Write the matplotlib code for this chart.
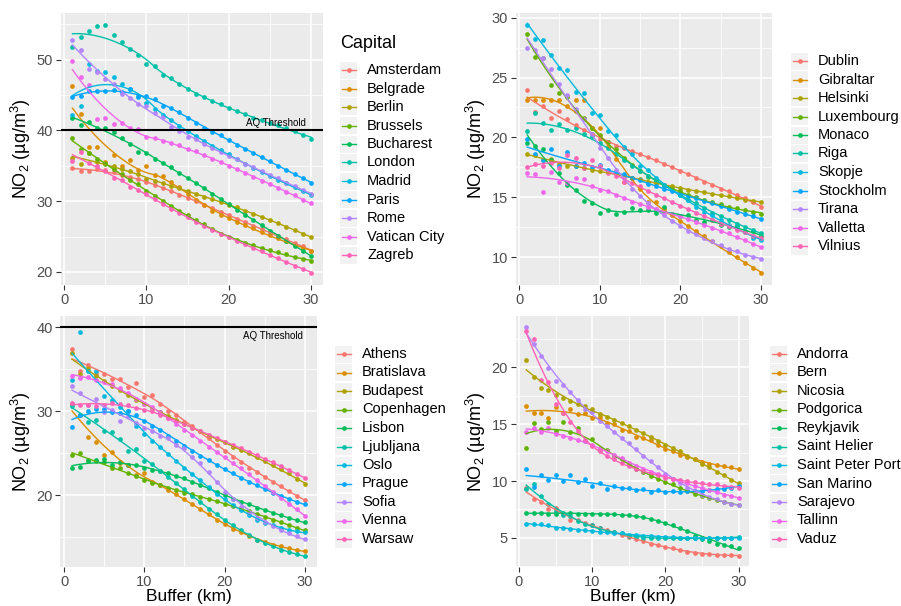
import numpy as np
import matplotlib
matplotlib.use("Agg")
import matplotlib.pyplot as plt
from matplotlib.patches import Rectangle
from matplotlib.lines import Line2D

plt.rcParams['font.family'] = ['Liberation Sans', 'DejaVu Sans']
plt.rcParams['mathtext.fontset'] = 'custom'
plt.rcParams['mathtext.rm'] = 'Liberation Sans'
plt.rcParams['mathtext.it'] = 'Liberation Sans:italic'
plt.rcParams['mathtext.default'] = 'regular'

# ---------------- data ----------------
buffer_km = list(range(1, 31))
palette = ["#F8766D", "#DB8E00", "#AEA200", "#64B200", "#00BD5C", "#00C1A7",
           "#00BADE", "#00A6FF", "#B385FF", "#EF67EB", "#FF63B6"]
aq_threshold = 40

# Panel A (top-left)
names_a = ["Amsterdam", "Belgrade", "Berlin", "Brussels", "Bucharest", "London",
           "Madrid", "Paris", "Rome", "Vatican City", "Zagreb"]
amsterdam = [34.7, 34.2, 34.2, 34.6, 34.4, 34.1, 33.7, 33.4, 33.1, 32.7, 32.3, 31.9, 31.4, 30.9, 30.5,
             30.0, 29.5, 29.0, 28.5, 28.0, 27.5, 27.0, 26.5, 26.0, 25.5, 25.1, 24.6, 24.1, 23.6, 23.0]
belgrade = [46.3, 42.3, 37.6, 37.7, 35.5, 36.5, 34.9, 35.8, 34.4, 34.9, 33.7, 33.6, 32.7, 32.0, 31.0,
            30.1, 29.5, 28.6, 28.1, 27.6, 27.1, 26.6, 26.2, 25.7, 25.2, 24.8, 24.3, 23.8, 23.4, 22.9]
berlin = [36.1, 35.3, 36.8, 35.5, 35.4, 34.9, 34.5, 34.2, 33.8, 33.1, 32.9, 32.5, 32.2, 31.8, 31.4,
          31.0, 30.6, 30.3, 29.9, 29.5, 29.1, 28.6, 28.2, 27.8, 27.3, 26.9, 26.4, 25.9, 25.4, 24.9]
brussels = [38.9, 37.3, 36.8, 36.0, 35.2, 34.6, 33.9, 33.0, 32.4, 31.5, 30.7, 30.0, 29.3, 28.6, 28.0,
            27.3, 26.7, 26.0, 25.4, 24.9, 24.5, 24.1, 23.8, 23.4, 23.1, 22.8, 22.5, 22.1, 21.8, 21.5]
bucharest = [41.8, 40.8, 41.2, 40.4, 40.4, 39.7, 38.9, 38.1, 37.0, 36.8, 36.0, 35.4, 34.8, 34.0, 33.3,
             32.5, 31.8, 31.0, 30.3, 29.6, 28.8, 28.1, 27.3, 26.6, 25.8, 25.1, 24.4, 23.7, 23.0, 22.3]
london = [51.8, 53.2, 54.1, 54.7, 54.9, 53.5, 52.5, 51.5, 50.6, 49.4, 49.1, 47.8, 47.4, 46.5, 45.8,
          45.2, 44.7, 44.2, 43.7, 43.1, 42.7, 42.3, 41.8, 41.5, 41.0, 40.7, 40.3, 39.9, 39.4, 38.8]
madrid = [42.1, 43.5, 49.4, 48.4, 48.3, 47.6, 46.6, 45.9, 44.8, 43.8, 43.0, 42.2, 41.4, 40.6, 39.9,
          39.2, 38.5, 37.8, 37.2, 36.6, 35.9, 35.3, 34.7, 34.1, 33.6, 33.0, 32.5, 32.0, 31.4, 30.8]
paris = [44.7, 44.9, 45.5, 45.6, 45.6, 45.7, 45.4, 45.9, 44.7, 44.9, 44.4, 43.5, 43.1, 42.6, 41.7,
         41.1, 40.4, 39.8, 39.3, 38.6, 38.0, 37.4, 36.8, 36.2, 35.6, 35.0, 34.4, 33.9, 33.2, 32.6]
rome = [52.7, 51.4, 48.6, 48.2, 47.2, 46.5, 45.1, 44.6, 43.7, 43.4, 42.5, 41.9, 40.5, 39.9, 39.1,
        38.8, 38.1, 37.5, 37.0, 36.4, 35.9, 35.3, 34.8, 34.3, 33.7, 33.2, 32.6, 32.1, 31.6, 31.0]
vatican_city = [49.8, 47.6, 46.4, 41.6, 41.7, 40.9, 41.0, 40.4, 40.2, 39.1, 38.9, 38.5, 38.2, 37.9, 37.3,
                37.1, 36.5, 36.0, 35.5, 35.0, 34.5, 34.0, 33.4, 32.9, 32.4, 31.8, 31.3, 30.8, 30.2, 29.7]
zagreb = [35.6, 36.9, 35.4, 35.0, 34.3, 33.3, 33.0, 32.0, 31.6, 31.0, 30.3, 29.6, 28.9, 28.3, 27.7,
          27.1, 26.5, 25.9, 25.4, 24.9, 24.4, 23.9, 23.4, 22.9, 22.4, 21.9, 21.4, 20.9, 20.4, 19.9]

# Panel B (top-right)
names_b = ["Dublin", "Gibraltar", "Helsinki", "Luxembourg", "Monaco", "Riga",
           "Skopje", "Stockholm", "Tirana", "Valletta", "Vilnius"]
dublin = [24.0, 22.1, 22.6, 21.6, 22.2, 21.5, 21.0, 20.6, 20.3, 19.9, 19.6, 19.3, 19.1, 18.9, 18.6,
          18.4, 18.1, 17.8, 17.5, 17.2, 16.9, 16.6, 16.3, 16.0, 15.7, 15.5, 15.2, 14.9, 14.6, 14.2]
gibraltar = [23.1, 23.1, 23.1, 23.1, 23.1, 22.6, 23.1, 23.1, 20.8, 20.8, 19.2, 18.2, 16.3, 16.6, 15.7,
             14.6, 14.6, 14.0, 13.5, 13.0, 12.6, 12.2, 11.8, 11.3, 10.9, 10.4, 10.0, 9.5, 9.1, 8.7]
helsinki = [18.6, 18.5, 18.1, 18.2, 17.8, 17.6, 17.6, 17.4, 17.3, 17.2, 17.1, 16.9, 16.8, 16.6, 16.5,
            16.3, 16.2, 16.0, 15.9, 15.8, 15.6, 15.5, 15.4, 15.3, 15.2, 15.1, 14.9, 14.8, 14.7, 14.6]
luxembourg = [28.6, 26.7, 26.6, 24.4, 23.7, 23.4, 22.2, 21.6, 20.8, 20.2, 19.6, 19.0, 18.3, 17.7, 17.2,
              16.7, 16.4, 16.0, 15.7, 15.5, 15.2, 15.0, 14.8, 14.6, 14.4, 14.2, 14.1, 13.9, 13.8, 13.6]
monaco = [19.5, 19.3, 19.0, 18.1, 17.0, 16.0, 15.6, 14.7, 14.5, 13.7, 13.9, 13.6, 13.8, 14.1, 13.9,
          13.9, 13.7, 14.2, 13.6, 13.4, 13.5, 13.1, 12.9, 13.1, 12.7, 12.5, 12.6, 12.1, 12.2, 11.8]
riga = [20.5, 22.0, 21.2, 20.6, 21.1, 20.6, 20.8, 20.3, 20.1, 19.5, 19.1, 18.6, 18.1, 17.6, 17.2,
        16.8, 16.4, 16.0, 15.6, 15.2, 14.8, 14.5, 14.1, 13.7, 13.4, 13.1, 12.8, 12.5, 12.3, 12.0]
skopje = [29.4, 28.2, 28.1, 26.9, 25.8, 25.6, 23.8, 23.7, 22.0, 21.9, 20.5, 20.2, 19.2, 18.6, 17.6,
          17.3, 16.6, 16.0, 15.6, 15.2, 14.8, 14.2, 13.8, 13.5, 13.1, 12.7, 12.4, 12.2, 11.6, 11.4]
stockholm = [19.9, 18.6, 18.1, 19.0, 17.6, 18.8, 17.6, 17.9, 17.5, 17.7, 17.3, 17.0, 16.9, 16.6, 16.4,
             16.1, 15.9, 15.7, 15.5, 15.3, 15.1, 14.9, 14.7, 14.5, 14.3, 14.0, 13.8, 13.6, 13.4, 13.2]
tirana = [27.5, 27.3, 26.6, 25.7, 24.5, 23.5, 22.4, 21.5, 20.3, 19.1, 18.3, 17.3, 16.6, 15.7, 15.1,
          14.5, 14.0, 13.5, 13.0, 12.6, 12.2, 11.9, 11.6, 11.3, 11.0, 10.7, 10.5, 10.2, 10.0, 9.8]
valletta = [17.0, 16.9, 15.4, 17.1, 16.3, 16.2, 16.6, 16.5, 15.9, 15.6, 15.5, 15.2, 14.9, 14.6, 14.4,
            14.2, 14.0, 13.8, 13.6, 13.4, 13.2, 12.9, 12.7, 12.4, 12.2, 12.0, 11.7, 11.4, 11.1, 10.8]
vilnius = [17.5, 17.8, 17.6, 17.9, 17.4, 18.5, 18.3, 17.4, 18.1, 17.6, 17.0, 16.8, 16.3, 16.2, 15.9,
           15.5, 15.2, 14.9, 14.6, 14.3, 14.0, 13.7, 13.4, 13.1, 12.8, 12.6, 12.3, 12.1, 11.8, 11.6]

# Panel C (bottom-left)
names_c = ["Athens", "Bratislava", "Budapest", "Copenhagen", "Lisbon", "Ljubljana",
           "Oslo", "Prague", "Sofia", "Vienna", "Warsaw"]
athens = [37.4, 34.8, 35.5, 34.5, 34.4, 33.9, 33.9, 32.9, 33.4, 31.7, 32.0, 30.9, 30.0, 29.6, 28.7,
          28.3, 27.6, 26.8, 26.0, 25.3, 24.6, 24.0, 23.3, 22.8, 22.2, 21.6, 21.1, 20.5, 19.9, 19.4]
bratislava = [30.9, 29.5, 26.9, 26.3, 24.8, 25.2, 23.8, 23.6, 22.4, 22.6, 21.6, 21.2, 20.6, 20.2, 19.6,
              18.9, 18.3, 17.7, 17.1, 16.6, 16.0, 15.6, 15.1, 14.7, 14.4, 14.1, 13.9, 13.7, 13.5, 13.3]
budapest = [37.0, 34.4, 35.2, 34.2, 33.6, 33.0, 32.5, 31.9, 31.4, 30.9, 30.4, 29.9, 29.4, 29.0, 28.5,
            28.0, 27.6, 27.1, 26.7, 26.3, 25.8, 25.4, 25.0, 24.5, 24.1, 23.6, 23.1, 22.6, 21.9, 21.3]
copenhagen = [24.8, 25.0, 24.1, 24.1, 23.9, 23.3, 23.2, 22.6, 22.3, 21.8, 21.5, 21.2, 20.9, 20.6, 20.3,
              20.1, 19.8, 19.6, 19.3, 19.0, 18.7, 18.4, 18.1, 17.7, 17.4, 17.1, 16.8, 16.4, 16.1, 15.8]
lisbon = [23.2, 23.4, 24.2, 24.2, 24.3, 23.6, 24.0, 23.6, 23.6, 23.3, 23.0, 22.9, 22.6, 22.3, 22.0,
          21.6, 21.2, 20.8, 20.4, 20.0, 19.6, 19.2, 18.9, 18.5, 18.2, 17.9, 17.6, 17.3, 17.0, 16.75]
ljubljana = [30.6, 29.6, 28.7, 29.0, 27.6, 27.5, 26.7, 25.3, 25.5, 24.1, 23.7, 22.9, 22.2, 21.4, 20.7,
             19.9, 19.2, 18.4, 17.7, 17.0, 16.4, 15.8, 15.2, 14.7, 14.3, 13.9, 13.5, 13.2, 13.0, 12.8]
oslo = [33.7, 39.5, 34.8, 34.8, 31.8, 31.3, 30.5, 30.0, 28.2, 27.3, 26.5, 25.8, 24.9, 24.1, 23.3,
        22.5, 21.8, 21.0, 20.2, 19.5, 18.8, 18.2, 17.6, 17.1, 16.7, 16.4, 16.1, 15.9, 15.7, 15.6]
prague = [28.1, 29.6, 30.0, 30.3, 30.3, 29.9, 29.8, 30.0, 29.5, 28.9, 28.2, 27.8, 27.1, 26.5, 25.9,
          25.3, 24.7, 24.2, 23.6, 23.1, 22.6, 22.1, 21.6, 21.2, 20.7, 20.3, 19.9, 19.6, 19.2, 18.9]
sofia = [33.0, 32.2, 30.8, 31.5, 29.9, 30.2, 28.8, 29.4, 28.6, 28.0, 27.6, 27.0, 26.8, 26.0, 25.6,
         24.6, 23.8, 22.8, 21.6, 20.4, 19.5, 18.6, 17.9, 17.3, 16.8, 16.3, 15.9, 15.5, 15.1, 14.8]
vienna = [34.2, 34.0, 34.1, 33.7, 33.5, 33.3, 32.8, 32.2, 31.5, 30.9, 30.5, 29.9, 29.2, 28.5, 27.8,
          27.2, 26.5, 25.8, 25.1, 24.5, 23.8, 23.2, 22.5, 21.8, 21.1, 20.4, 19.7, 19.0, 18.3, 17.5]
warsaw = [31.0, 30.8, 30.8, 30.6, 30.7, 31.0, 30.9, 30.7, 30.4, 30.2, 30.0, 29.6, 29.2, 28.8, 28.5,
          28.0, 27.6, 27.2, 26.8, 26.4, 26.0, 25.6, 25.2, 24.8, 24.3, 23.9, 23.5, 23.0, 22.5, 22.0]

# Panel D (bottom-right)
names_d = ["Andorra", "Bern", "Nicosia", "Podgorica", "Reykjavik", "Saint Helier",
           "Saint Peter Port", "San Marino", "Sarajevo", "Tallinn", "Vaduz"]
andorra = [9.4, 8.4, 8.2, 7.5, 7.6, 7.1, 6.6, 6.6, 6.3, 6.1, 5.9, 5.7, 5.5, 5.3, 5.1,
           4.9, 4.7, 4.5, 4.4, 4.2, 4.1, 3.9, 3.8, 3.7, 3.6, 3.6, 3.5, 3.5, 3.5, 3.45]
bern = [16.6, 16.0, 16.0, 15.5, 16.5, 16.0, 16.3, 15.9, 16.0, 15.5, 15.6, 15.1, 15.0, 14.5, 14.4,
        13.9, 13.8, 13.6, 13.2, 12.8, 12.6, 12.3, 12.1, 11.9, 11.7, 11.5, 11.4, 11.3, 11.2, 11.05]
nicosia = [20.6, 19.1, 18.2, 18.0, 17.6, 17.3, 17.0, 16.8, 16.6, 16.3, 15.9, 15.6, 15.4, 15.1, 14.8,
           14.5, 14.2, 13.9, 13.5, 13.2, 12.9, 12.6, 12.2, 11.9, 11.5, 11.2, 10.8, 10.5, 10.1, 9.8]
podgorica = [12.9, 15.1, 14.6, 15.2, 14.4, 15.2, 14.3, 14.7, 13.5, 13.7, 12.8, 12.7, 12.2, 11.9, 11.5,
             11.1, 10.8, 10.4, 10.2, 9.9, 9.7, 9.4, 9.1, 8.9, 8.7, 8.5, 8.3, 8.2, 8.0, 7.9]
reykjavik = [7.2, 7.2, 7.2, 7.1, 7.1, 7.2, 7.2, 7.1, 7.1, 7.1, 7.1, 7.1, 7.1, 7.0, 7.0,
             6.9, 6.8, 6.7, 6.5, 6.3, 6.1, 5.9, 5.6, 5.2, 4.9, 4.7, 4.5, 4.4, 4.3, 4.1]
saint_helier = [9.3, 9.7, 8.7, 8.0, 7.4, 7.0, 6.9, 6.5, 6.2, 6.1, 5.9, 5.6, 5.5, 5.4, 5.2,
                5.1, 5.0, 5.0, 5.0, 5.0, 5.0, 5.0, 5.0, 5.0, 5.0, 5.0, 5.0, 5.0, 5.0, 5.05]
saint_peter_port = [6.2, 6.2, 6.2, 6.1, 5.9, 5.9, 5.8, 5.7, 5.7, 5.6, 5.5, 5.5, 5.4, 5.4, 5.3,
                    5.3, 5.2, 5.2, 5.1, 5.1, 5.1, 5.0, 5.0, 5.0, 5.0, 5.0, 5.0, 5.0, 5.0, 5.0]
san_marino = [11.1, 9.5, 10.5, 10.1, 10.5, 10.0, 10.5, 9.9, 10.2, 9.6, 9.8, 9.3, 9.6, 9.4, 9.4,
              9.2, 9.3, 9.0, 9.2, 9.0, 9.1, 9.0, 9.1, 9.1, 9.1, 9.2, 9.3, 9.3, 9.4, 9.6]
sarajevo = [23.5, 22.0, 21.0, 19.9, 18.8, 18.4, 17.8, 17.1, 16.3, 16.1, 15.3, 14.8, 14.3, 13.8, 13.3,
            12.8, 12.2, 11.8, 11.2, 10.6, 10.2, 9.8, 9.4, 9.1, 8.8, 8.6, 8.4, 8.2, 8.0, 7.9]
tallinn = [14.3, 14.7, 14.3, 14.7, 14.1, 14.0, 13.8, 13.6, 13.5, 13.2, 12.9, 12.6, 12.3, 12.0, 11.6,
           11.3, 11.1, 10.8, 10.6, 10.4, 10.2, 10.0, 9.8, 9.6, 9.4, 9.2, 9.0, 8.8, 8.7, 8.5]
vaduz = [23.2, 22.5, 18.9, 18.7, 16.8, 16.0, 15.2, 14.4, 13.6, 13.1, 12.6, 12.2, 11.9, 11.6, 11.3,
         11.1, 10.9, 10.7, 10.5, 10.3, 10.2, 10.1, 10.0, 9.9, 9.8, 9.7, 9.7, 9.6, 9.5, 9.4]

series_a = [amsterdam, belgrade, berlin, brussels, bucharest, london, madrid, paris, rome, vatican_city, zagreb]
series_b = [dublin, gibraltar, helsinki, luxembourg, monaco, riga, skopje, stockholm, tirana, valletta, vilnius]
series_c = [athens, bratislava, budapest, copenhagen, lisbon, ljubljana, oslo, prague, sofia, vienna, warsaw]
series_d = [andorra, bern, nicosia, podgorica, reykjavik, saint_helier, saint_peter_port, san_marino,
            sarajevo, tallinn, vaduz]

# ---------------- helpers ----------------
W, H = 901, 606


def loess(x, y, xs, span=0.75):
    x = np.asarray(x, float)
    y = np.asarray(y, float)
    n = len(x)
    q = int(np.floor(n * span))
    out = []
    for x0 in xs:
        d = np.abs(x - x0)
        h = np.sort(d)[q - 1]
        w = np.clip(1 - (d / h) ** 3, 0, None) ** 3
        X = np.vstack([np.ones(n), x - x0, (x - x0) ** 2]).T
        sw = np.sqrt(w)
        beta = np.linalg.lstsq(X * sw[:, None], y * sw, rcond=None)[0]
        out.append(beta[0])
    return np.array(out)


def px_axes(fig, l, t, r, b):
    return fig.add_axes([l / W, 1 - b / H, (r - l) / W, (b - t) / H])


def panel(fig, box, series, yticks, xlabel=False, threshold=None, thr_text=None):
    ax = px_axes(fig, *box)
    ax.set_facecolor('#EBEBEB')
    for s in ax.spines.values():
        s.set_visible(False)
    x = np.array(buffer_km, float)
    xs = np.linspace(x.min(), x.max(), 120)
    for vals, c in zip(series, palette):
        ax.plot(x, vals, 'o', color=c, ms=3.4, mew=0, zorder=3)
    for vals, c in zip(series, palette):
        ax.plot(xs, loess(x, vals, xs), '-', color=c, lw=1.0, zorder=4)
    allv = np.concatenate([np.asarray(v, float) for v in series])
    lo, hi = allv.min(), allv.max()
    if threshold is not None:
        lo, hi = min(lo, threshold), max(hi, threshold)
        ax.axhline(threshold, color='black', lw=1.5, zorder=5)
        tx, ty = thr_text
        ax.text(tx, ty, 'AQ Threshold', fontsize=7, ha='center', va='center', zorder=6)
    rng = hi - lo
    xr = x.max() - x.min()
    ax.set_xlim(x.min() - 0.05 * xr, x.max() + 0.05 * xr)
    ax.set_xticks([0, 10, 20, 30])
    ax.set_xticks([5, 15, 25], minor=True)
    ax.set_yticks(yticks)
    step = yticks[1] - yticks[0]
    ax.set_yticks([t + step / 2 for t in [yticks[0] - step] + list(yticks)], minor=True)
    ax.set_ylim(lo - 0.05 * rng, hi + 0.05 * rng)
    ax.grid(which='major', color='white', lw=1.1)
    ax.grid(which='minor', color='white', lw=0.55)
    ax.set_axisbelow(True)
    ax.tick_params(which='major', length=3.5, width=0.8, color='#333333',
                   labelcolor='#4D4D4D', labelsize=10.5, pad=2)
    ax.tick_params(which='minor', length=0)
    ax.set_ylabel('NO$_2$ (µg/m$^3$)', fontsize=13, labelpad=2.5)
    if xlabel:
        ax.set_xlabel('Buffer (km)', fontsize=12.5, labelpad=0.5)
    return ax


def legend(fig, names, key_x, first_y, text_x, title=None, title_y=None):
    step = 18.5
    for i, (n, c) in enumerate(zip(names, palette)):
        cy = first_y + step * i
        fig.add_artist(Rectangle((key_x / W, 1 - (cy + 8.5) / H), 17 / W, 17 / H,
                                 transform=fig.transFigure, facecolor='#F2F2F2',
                                 edgecolor='none'))
        fig.add_artist(Line2D([(key_x + 1.5) / W, (key_x + 15.5) / W], [1 - cy / H] * 2,
                              transform=fig.transFigure, color=c, lw=1.0))
        fig.add_artist(Line2D([(key_x + 8.5) / W], [1 - cy / H], transform=fig.transFigure,
                              color=c, marker='o', ms=3.4, mew=0, ls='none'))
        fig.text(text_x / W, 1 - cy / H, n, fontsize=10.5, va='center', ha='left')
    if title:
        fig.text(key_x / W, 1 - title_y / H, title, fontsize=13, va='center', ha='left')


# ---------------- figure ----------------
fig = plt.figure(figsize=(W / 100, H / 100), dpi=100)
fig.patch.set_facecolor('white')

panel(fig, (60.5, 12.5, 323, 285), series_a, [20, 30, 40, 50],
      threshold=aq_threshold, thr_text=(25.7, 41.0))
panel(fig, (515.5, 12.5, 772.5, 285), series_b, [10, 15, 20, 25, 30])
panel(fig, (60.4, 316, 316.5, 567), series_c, [20, 30, 40], xlabel=True,
      threshold=aq_threshold, thr_text=(26.0, 39.0))
panel(fig, (515.7, 316, 749.3, 567), series_d, [5, 10, 15, 20], xlabel=True)

legend(fig, names_a, 340, 70, 367, title='Capital', title_y=44)
legend(fig, names_b, 791, 61, 818)
legend(fig, names_c, 335, 354, 362)
legend(fig, names_d, 770, 354, 797)

fig.savefig('out.png', dpi=100)
